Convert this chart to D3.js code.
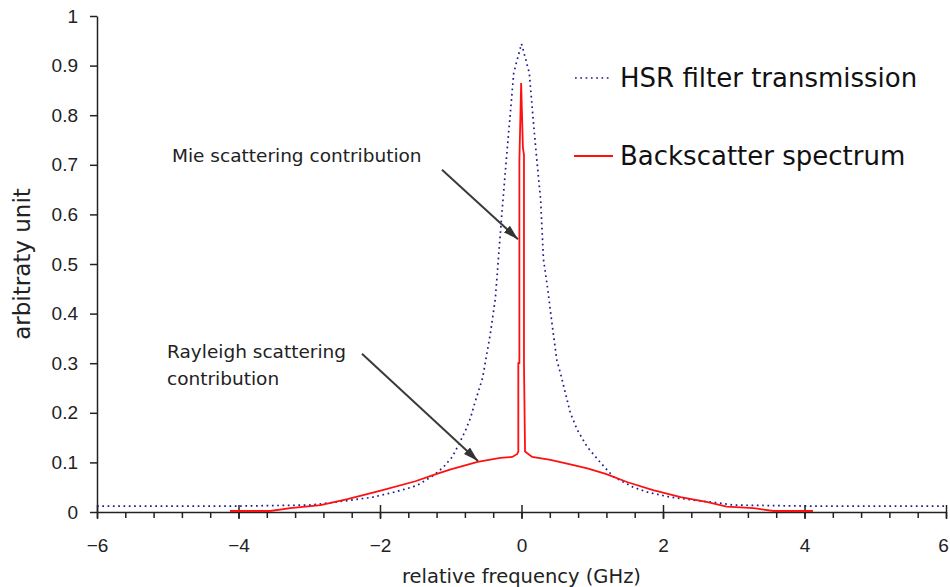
<!DOCTYPE html>
<html>
<head>
<meta charset="utf-8">
<script src="https://cdn.jsdelivr.net/npm/d3@7"></script>
<style>
  body { margin: 0; background: #fff; }
  svg { display: block; font-family: "DejaVu Sans", sans-serif; }
  .axis path, .axis line { stroke: #222; stroke-width: 1.5; }
  .axis text { font-size: 19px; fill: #222; }
</style>
</head>
<body>
<div id="chart"></div>
<script>
// HSR filter transmission (blue dotted)
const hsrFreq = [-6, -4, -3.0, -2.8, -2.4, -2.1, -1.8, -1.6, -1.47, -1.24, -1.1, -0.98, -0.89, -0.79, -0.72, -0.66, -0.55, -0.44, -0.37, -0.3, -0.27, -0.2, -0.16, -0.11, -0.07, 0,
  0.07, 0.11, 0.16, 0.2, 0.27, 0.31, 0.37, 0.44, 0.5, 0.55, 0.62, 0.69, 0.79, 0.93, 1.12, 1.3, 1.58, 1.78, 2.1, 2.43, 2.8, 3.0, 4, 6];
const hsrVal = [0.012, 0.012, 0.014, 0.017, 0.024, 0.03, 0.04, 0.048, 0.054, 0.074, 0.091, 0.111, 0.135, 0.165, 0.19, 0.22, 0.27, 0.36, 0.43, 0.56, 0.615, 0.735, 0.80, 0.885, 0.907, 0.944,
  0.907, 0.885, 0.80, 0.735, 0.63, 0.51, 0.45, 0.37, 0.306, 0.28, 0.24, 0.2, 0.165, 0.131, 0.099, 0.071, 0.05, 0.04, 0.03, 0.024, 0.018, 0.014, 0.012, 0.012];

// Backscatter spectrum (red)
const bsFreq = [-4.12, -3.55, -3.27, -2.84, -2.46, -1.99, -1.5, -1.24, -1.0, -0.62, -0.3, -0.13, -0.06, -0.045, -0.045, -0.03, -0.03, -0.005, 0.02, 0.035, 0.035, 0.05, 0.15, 0.41, 0.69, 0.93, 1.19, 1.5, 1.86, 2.25, 2.63, 2.9, 3.28, 3.56, 4.12];
const bsVal = [0.002, 0.002, 0.008, 0.014, 0.026, 0.043, 0.062, 0.075, 0.086, 0.101, 0.109, 0.111, 0.117, 0.122, 0.30, 0.30, 0.706, 0.865, 0.734, 0.72, 0.30, 0.122, 0.111, 0.105, 0.096, 0.088, 0.077, 0.06, 0.044, 0.03, 0.02, 0.011, 0.008, 0.002, 0.002];

const xTicks = [-6, -4, -2, 0, 2, 4, 6];
const yTicks = [0, 0.1, 0.2, 0.3, 0.4, 0.5, 0.6, 0.7, 0.8, 0.9, 1];

const legendLabels = ["HSR filter transmission", "Backscatter spectrum"];

const width = 950, height = 587;
const margin = { top: 16, right: 4, bottom: 75, left: 97 };

const svg = d3.select("#chart").append("svg")
  .attr("width", width)
  .attr("height", height);

const x = d3.scaleLinear().domain([-6, 6]).range([margin.left, width - margin.right]);
const y = d3.scaleLinear().domain([0, 1]).range([height - margin.bottom, margin.top]);

// minor x ticks every 0.4
const minorTicks = d3.range(-6, 6.001, 0.4).map(d => +d.toFixed(1));
svg.append("g")
  .attr("class", "axis")
  .attr("transform", `translate(0,${y(0)})`)
  .call(d3.axisBottom(x).tickValues(minorTicks).tickSize(6).tickFormat(""))
  .call(g => g.select(".domain").remove());

const xAxis = svg.append("g")
  .attr("class", "axis")
  .attr("transform", `translate(0,${y(0)})`)
  .call(d3.axisBottom(x).tickValues(xTicks).tickSizeInner(7).tickSizeOuter(0).tickPadding(20).tickFormat(d3.format("d")));
xAxis.selectAll(".tick line").attr("y1", -7).attr("y2", 7);
// last label sits on the right edge, nudge it in
xAxis.selectAll(".tick text").filter(d => d === 6).attr("dx", -3);

svg.append("g")
  .attr("class", "axis")
  .attr("transform", `translate(${x(-6)},0)`)
  .call(d3.axisLeft(y).tickValues(yTicks).tickSizeInner(7).tickSizeOuter(0).tickPadding(12).tickFormat(d => d3.format("~g")(d)));

// axis titles
svg.append("text")
  .attr("x", x(0))
  .attr("y", 583)
  .attr("text-anchor", "middle")
  .attr("font-size", 19.5)
  .attr("fill", "#222")
  .text("relative frequency (GHz)");

svg.append("text")
  .attr("transform", `translate(30,${y(0.5)}) rotate(-90)`)
  .attr("text-anchor", "middle")
  .attr("font-size", 23)
  .attr("fill", "#222")
  .text("arbitraty unit");

// curves
const line = d3.line().x(d => x(d[0])).y(d => y(d[1]));

svg.append("path")
  .datum(hsrFreq.map((f, i) => [f, hsrVal[i]]))
  .attr("fill", "none")
  .attr("stroke", "#1c1c8f")
  .attr("stroke-width", 1.7)
  .attr("stroke-dasharray", "1.7,3.6")
  .attr("d", line);

svg.append("path")
  .datum(bsFreq.map((f, i) => [f, bsVal[i]]))
  .attr("fill", "none")
  .attr("stroke", "#ff1010")
  .attr("stroke-width", 1.8)
  .attr("d", line);

// annotation arrows
const defs = svg.append("defs");
defs.append("marker")
  .attr("id", "arrow")
  .attr("markerUnits", "userSpaceOnUse")
  .attr("markerWidth", 15)
  .attr("markerHeight", 9)
  .attr("refX", 15)
  .attr("refY", 4.5)
  .attr("orient", "auto")
  .append("path")
  .attr("d", "M0,0 L15,4.5 L0,9 Z")
  .attr("fill", "#333");

const arrows = [
  { from: [-1.124, 0.690], to: [-0.05, 0.55] },
  { from: [-2.255, 0.319], to: [-0.615, 0.103] }
];
svg.selectAll(".arrow")
  .data(arrows)
  .join("line")
  .attr("class", "arrow")
  .attr("x1", d => x(d.from[0]))
  .attr("y1", d => y(d.from[1]))
  .attr("x2", d => x(d.to[0]))
  .attr("y2", d => y(d.to[1]))
  .attr("stroke", "#3a3a3a")
  .attr("stroke-width", 2)
  .attr("marker-end", "url(#arrow)");

const notes = [
  { text: "Mie scattering contribution", fx: -4.94, fy: 0.706 },
  { text: "Rayleigh scattering", fx: -5.01, fy: 0.31 },
  { text: "contribution", fx: -5.01, fy: 0.256 }
];
svg.selectAll(".note")
  .data(notes)
  .join("text")
  .attr("class", "note")
  .attr("x", d => x(d.fx))
  .attr("y", d => y(d.fy))
  .attr("font-size", 18.5)
  .attr("fill", "#222")
  .text(d => d.text);

// legend
const legend = svg.append("g").attr("transform", "translate(575,78)");
legend.append("line")
  .attr("x1", 0).attr("x2", 36).attr("y1", 0).attr("y2", 0)
  .attr("stroke", "#1c1c8f")
  .attr("stroke-width", 1.7)
  .attr("stroke-dasharray", "1.7,3.6");
legend.append("line")
  .attr("x1", -1).attr("x2", 38).attr("y1", 78).attr("y2", 78)
  .attr("stroke", "#ff1010")
  .attr("stroke-width", 1.8);
legend.selectAll("text")
  .data(legendLabels)
  .join("text")
  .attr("x", 45)
  .attr("y", (d, i) => 9 + i * 78)
  .attr("font-size", 26)
  .attr("fill", "#111")
  .text(d => d);
</script>
</body>
</html>
